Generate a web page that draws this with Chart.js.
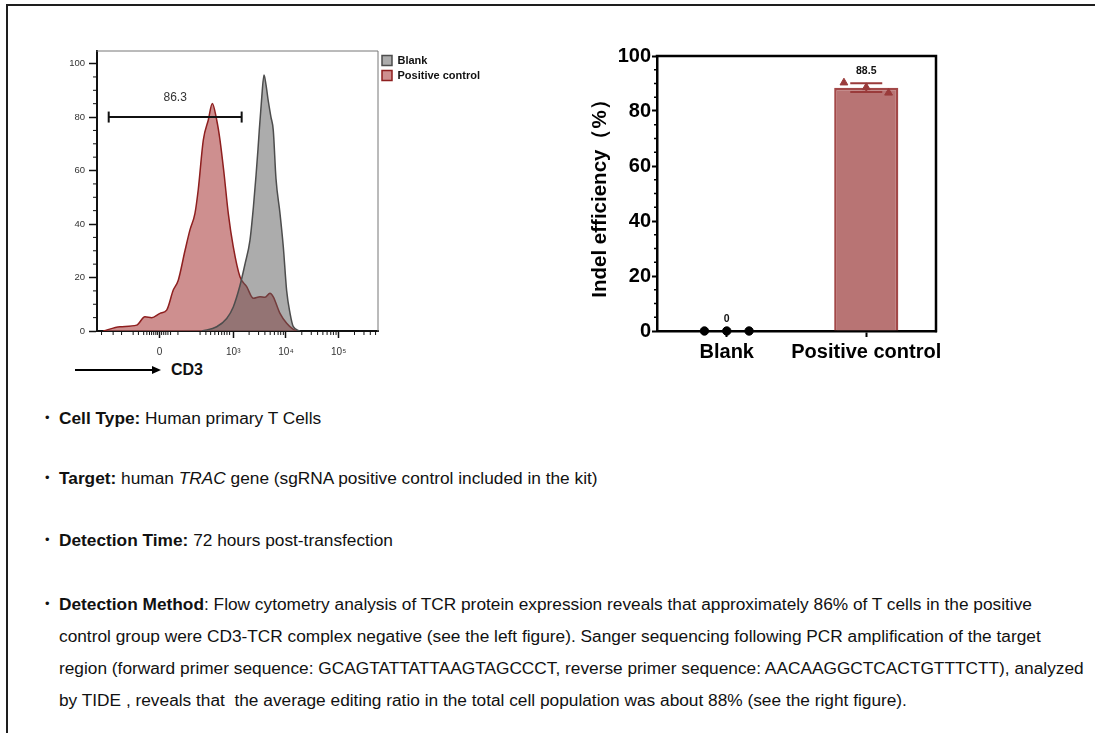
<!DOCTYPE html>
<html>
<head>
<meta charset="utf-8">
<script src="https://cdn.jsdelivr.net/npm/chart.js@4.4.1/dist/chart.umd.min.js"></script>
<style>
html,body{margin:0;padding:0;background:#fff;width:1095px;height:733px;overflow:hidden;font-family:Arial,"Liberation Sans",sans-serif;}
#frame{position:absolute;left:6px;top:4px;width:1200px;height:800px;border:2px solid #1e1e1e;box-sizing:border-box;}
#c1wrap{position:absolute;left:40px;top:40px;width:470px;height:320px;}
#c2wrap{position:absolute;left:560px;top:40px;width:400px;height:330px;}
.p{position:absolute;left:59px;font-size:17.3px;line-height:32px;color:#111;white-space:nowrap;}
.p .b{position:absolute;left:-14px;top:0;font-size:13px;}
#arrowline{position:absolute;left:75px;top:369px;width:78px;height:1.5px;background:#000;}
#arrowhead{position:absolute;left:152px;top:366px;width:0;height:0;border-left:9px solid #000;border-top:4px solid transparent;border-bottom:4px solid transparent;}
#cd3{position:absolute;left:171px;top:360px;font-weight:bold;font-size:16px;line-height:20px;color:#111;}
</style>
</head>
<body>
<div id="frame"></div>
<div id="c1wrap"><canvas id="c1"></canvas></div>
<div id="c2wrap"><canvas id="c2"></canvas></div>
<div id="arrowline"></div><div id="arrowhead"></div>
<div id="cd3">CD3</div>

<div class="p" style="top:402px"><span class="b">•</span><b>Cell Type:</b> Human primary T Cells</div>
<div class="p" style="top:462px"><span class="b">•</span><b>Target:</b> human <i>TRAC</i> gene (sgRNA positive control included in the kit)</div>
<div class="p" style="top:524px"><span class="b">•</span><b>Detection Time:</b> 72 hours post-transfection</div>
<div class="p" style="top:588px"><span class="b">•</span><b>Detection Method</b>: Flow cytometry analysis of TCR protein expression reveals that approximately 86% of T cells in the positive<br>control group were CD3-TCR complex negative (see the left figure). Sanger sequencing following PCR amplification of the target<br>region (forward primer sequence: GCAGTATTATTAAGTAGCCCT, reverse primer sequence: AACAAGGCTCACTGTTTCTT), analyzed<br>by TIDE , reveals that&nbsp; the average editing ratio in the total cell population was about 88% (see the right figure).</div>

<script>
// ---------------- Data: flow cytometry histogram (x in logicle decade units) ----------------
const cd3TickValues = [1.6, 3, 4, 5];
const cd3TickLabels = ['0', '10³', '10⁴', '10⁵'];
const cd3MinorTicks = [0.50, 0.72, 0.88, 1.10, 1.20, 1.30, 1.36, 1.41, 1.45, 1.49, 1.53, 1.56, 1.64, 1.68, 1.72, 1.76, 1.81, 1.95,
  2.37, 2.48, 2.57, 2.65, 2.72, 2.78, 2.83, 2.88, 2.93,
  3.30, 3.48, 3.60, 3.70, 3.78, 3.85, 3.90, 3.95,
  4.30, 4.48, 4.60, 4.70, 4.78, 4.85, 4.90, 4.95,
  5.30, 5.48, 5.60, 5.70];
const countTicks = [0, 20, 40, 60, 80, 100];
const countMinor = [5, 10, 15, 25, 30, 35, 45, 50, 55, 65, 70, 75, 85, 90, 95];

const blankX = [2.406, 2.685, 2.875, 3.0, 3.127, 3.222, 3.317, 3.38, 3.431, 3.469, 3.493, 3.535, 3.583, 3.621, 3.664, 3.715, 3.759, 3.81, 3.886, 3.949, 4.013, 4.076, 4.139, 4.266];
const blankY = [0, 1.6, 4.7, 9, 17, 25, 34, 46, 58, 68, 75, 86, 95.7, 92, 86, 80, 75, 57, 44, 31.5, 15, 6.7, 1.6, 0];

const posX = [0.533, 0.85, 1.167, 1.324, 1.452, 1.609, 1.736, 1.861, 1.956, 2.083, 2.178, 2.273, 2.336, 2.431, 2.526, 2.602, 2.685, 2.748, 2.824, 2.905, 3.0, 3.127, 3.254, 3.38, 3.507, 3.602, 3.696, 3.759, 3.886, 4.013, 4.139, 4.203];
const posY = [0, 1.6, 2.2, 5.3, 5, 6.6, 7.8, 15.3, 19, 30, 37.8, 44, 53, 71.4, 78.9, 85.1, 78.9, 71.4, 59, 44, 31.5, 20.3, 16.6, 12.2, 12.8, 12.6, 14.1, 12.8, 6.6, 2.9, 0.6, 0];

const gateX = [0.636, 3.159];
const gateLevel = 80;
const gateLabel = '86.3';

// ---------------- Data: indel efficiency bar chart ----------------
const groups = ['Blank', 'Positive control'];
const meanValues = [0, 88.5];
const errValues = [0, 1.6];
const blankReps = [0, 0, 0];
const posReps = [90.3, 88.6, 86.6];
const effTicks = [0, 20, 40, 60, 80, 100];
const effMinor = [5, 10, 15, 25, 30, 35, 45, 50, 55, 65, 70, 75, 85, 90, 95];

Chart.defaults.font.family = 'Arial, "Liberation Sans", sans-serif';
Chart.defaults.animation = false;
Chart.defaults.events = [];
Chart.defaults.plugins.tooltip.enabled = false;
Chart.defaults.maintainAspectRatio = false;
Chart.defaults.responsive = true;

const minorTicks = {
  id: 'minorTicks',
  afterDraw(chart, args, opts) {
    const ctx = chart.ctx;
    (opts.specs || []).forEach(s => {
      const sc = chart.scales[s.axis];
      ctx.save();
      ctx.strokeStyle = s.color; ctx.lineWidth = s.width;
      ctx.beginPath();
      s.values.forEach(v => {
        const p = sc.getPixelForValue(v);
        if (sc.isHorizontal()) { ctx.moveTo(p, sc.top); ctx.lineTo(p, sc.top + s.length); }
        else { ctx.moveTo(sc.right, p); ctx.lineTo(sc.right - s.length, p); }
      });
      ctx.stroke();
      ctx.restore();
    });
  }
};

const frame = {
  id: 'frame',
  beforeDatasetsDraw(chart, args, o) {
    const {left, right, top, bottom} = chart.chartArea;
    const ctx = chart.ctx;
    ctx.save();
    ctx.strokeStyle = o.color; ctx.lineWidth = o.width; ctx.lineCap = 'square';
    ctx.beginPath();
    ctx.moveTo(left, top); ctx.lineTo(right, top); ctx.lineTo(right, bottom);
    ctx.stroke();
    ctx.restore();
  }
};

const gateText = {
  id: 'gateText',
  afterDatasetsDraw(chart) {
    const x = chart.scales.x, y = chart.scales.y, ctx = chart.ctx;
    const cx = (x.getPixelForValue(gateX[0]) + x.getPixelForValue(gateX[1])) / 2;
    const cy = y.getPixelForValue(gateLevel) - 19;
    ctx.save();
    ctx.font = '12px Arial, "Liberation Sans", sans-serif';
    ctx.fillStyle = '#333';
    ctx.textAlign = 'center'; ctx.textBaseline = 'middle';
    ctx.fillText(gateLabel, cx, cy);
    ctx.restore();
  }
};

const pts = (xs, ys) => xs.map((v, i) => ({x: v, y: ys[i]}));

const ch1 = new Chart(document.getElementById('c1'), {
  type: 'line',
  data: {
    datasets: [
      {
        label: 'Blank', data: pts(blankX, blankY), fill: 'origin',
        borderColor: '#4d4d4d', backgroundColor: 'rgba(90,90,90,0.5)', borderWidth: 1.5,
        pointRadius: 0, cubicInterpolationMode: 'monotone'
      },
      {
        label: 'Positive control', data: pts(posX, posY), fill: 'origin',
        borderColor: '#8e1f1f', backgroundColor: 'rgba(185,95,95,0.7)', borderWidth: 1.5,
        pointRadius: 0, cubicInterpolationMode: 'monotone'
      },
      {
        label: 'gate', data: gateX.map(v => ({x: v, y: gateLevel})), order: -1,
        borderColor: '#111', borderWidth: 2, fill: false,
        pointStyle: 'line', rotation: 90, pointRadius: 5.5, pointBorderWidth: 2, pointBorderColor: '#111'
      }
    ]
  },
  options: {
    layout: {padding: {left: 0, top: 11, right: 0, bottom: 0}},
    scales: {
      x: {
        type: 'linear', min: 0.414, max: 5.746,
        afterBuildTicks: s => { s.ticks = cd3TickValues.map(v => ({value: v})); },
        afterFit: s => { s.height = 29; },
        ticks: {
          callback: v => cd3TickLabels[cd3TickValues.indexOf(v)],
          font: {size: 10}, color: '#333', padding: 8, maxRotation: 0, autoSkip: false
        },
        grid: {drawOnChartArea: false, tickLength: 7, tickColor: '#111', tickWidth: 1.5},
        border: {color: '#111', width: 2}
      },
      y: {
        min: 0, max: 104.7,
        afterBuildTicks: s => { s.ticks = countTicks.map(v => ({value: v})); },
        afterFit: s => { s.width = 57; },
        ticks: {font: {size: 9.5}, color: '#333', padding: 4},
        grid: {drawOnChartArea: false, tickLength: 8, tickColor: '#111', tickWidth: 1.5},
        border: {color: '#111', width: 2}
      }
    },
    plugins: {
      legend: {
        position: 'right', align: 'start',
        labels: {
          boxWidth: 10, boxHeight: 10, padding: 4, color: '#111',
          font: {size: 11, weight: 'bold'},
          filter: item => item.datasetIndex < 2
        }
      },
      minorTicks: {specs: [
        {axis: 'x', values: cd3MinorTicks, length: 4, width: 1, color: '#111'},
        {axis: 'y', values: countMinor, length: 4, width: 1, color: '#111'}
      ]},
      frame: {color: '#777', width: 1}
    }
  },
  plugins: [minorTicks, frame, gateText]
});
// keep plot right edge aligned with the legend column
(function () {
  const d = ch1.chartArea.right - 338;
  if (Math.abs(d) > 0.5) { ch1.options.layout.padding.right = d; ch1.update('none'); }
})();

// ---------------- Bar chart ----------------
const jitter = [-0.16, 0, 0.16];
const errorBars = {
  id: 'errorBars',
  afterDatasetsDraw(chart, args, o) {
    const meta = chart.getDatasetMeta(0);
    const y = chart.scales.y, ctx = chart.ctx;
    meta.data.forEach((bar, i) => {
      const m = meanValues[i], e = errValues[i], x = bar.x;
      const yt = y.getPixelForValue(m + e), yb = y.getPixelForValue(m - e);
      ctx.save();
      if (e > 0) {
        ctx.strokeStyle = o.color; ctx.lineWidth = 2;
        ctx.beginPath();
        ctx.moveTo(x, yt); ctx.lineTo(x, yb);
        ctx.moveTo(x - o.cap, yt); ctx.lineTo(x + o.cap, yt);
        ctx.moveTo(x - o.cap, yb); ctx.lineTo(x + o.cap, yb);
        ctx.stroke();
      }
      ctx.font = 'bold 10.5px Arial, "Liberation Sans", sans-serif';
      ctx.fillStyle = '#111'; ctx.textAlign = 'center'; ctx.textBaseline = 'middle';
      ctx.fillText(String(m), x, yt - 12);
      ctx.restore();
    });
  }
};

new Chart(document.getElementById('c2'), {
  type: 'bar',
  data: {
    datasets: [
      {
        type: 'bar', data: meanValues.map((v, i) => ({x: i, y: v})),
        backgroundColor: '#b87474', borderColor: '#a34848', borderWidth: 2.5,
        barPercentage: 0.46, categoryPercentage: 1, grouped: false, order: 2
      },
      {
        type: 'scatter', data: blankReps.map((v, i) => ({x: 0 + jitter[i], y: v})),
        pointStyle: 'circle', pointRadius: 4.2, backgroundColor: '#000', borderColor: '#000', clip: false, order: 1
      },
      {
        type: 'scatter', data: posReps.map((v, i) => ({x: 1 + jitter[i], y: v})),
        pointStyle: 'triangle', pointRadius: 4.5, backgroundColor: '#9a3b3b', borderColor: '#9a3b3b', clip: false, order: 1
      }
    ]
  },
  options: {
    layout: {padding: {left: 28, top: 16, right: 24, bottom: 0}},
    scales: {
      x: {
        type: 'linear', min: -0.5, max: 1.5, offset: false,
        afterBuildTicks: s => { s.ticks = groups.map((g, i) => ({value: i})); },
        afterFit: s => { s.height = 39; },
        ticks: {
          callback: (v) => groups[v],
          font: {size: 20, weight: 'bold'}, color: '#000', padding: 3, maxRotation: 0, autoSkip: false
        },
        grid: {offset: false, drawOnChartArea: false, tickLength: 6, tickColor: '#000', tickWidth: 2},
        border: {color: '#000', width: 2.5}
      },
      y: {
        min: 0, max: 100,
        afterBuildTicks: s => { s.ticks = effTicks.map(v => ({value: v})); },
        afterFit: s => { s.width = 69; },
        ticks: {font: {size: 20, weight: 'bold'}, color: '#000', padding: 1},
        grid: {drawOnChartArea: false, tickLength: 5, tickColor: '#000', tickWidth: 2},
        border: {color: '#000', width: 2.5},
        title: {display: true, text: 'Indel efficiency（%）', font: {size: 20.5, weight: 'bold'}, color: '#000', padding: 0}
      }
    },
    plugins: {
      legend: {display: false},
      minorTicks: {specs: [{axis: 'y', values: effMinor, length: 3, width: 1.5, color: '#000'}]},
      frame: {color: '#000', width: 2.5},
      errorBars: {color: '#9a3b3b', cap: 16}
    }
  },
  plugins: [minorTicks, frame, errorBars]
});
</script>
</body>
</html>
